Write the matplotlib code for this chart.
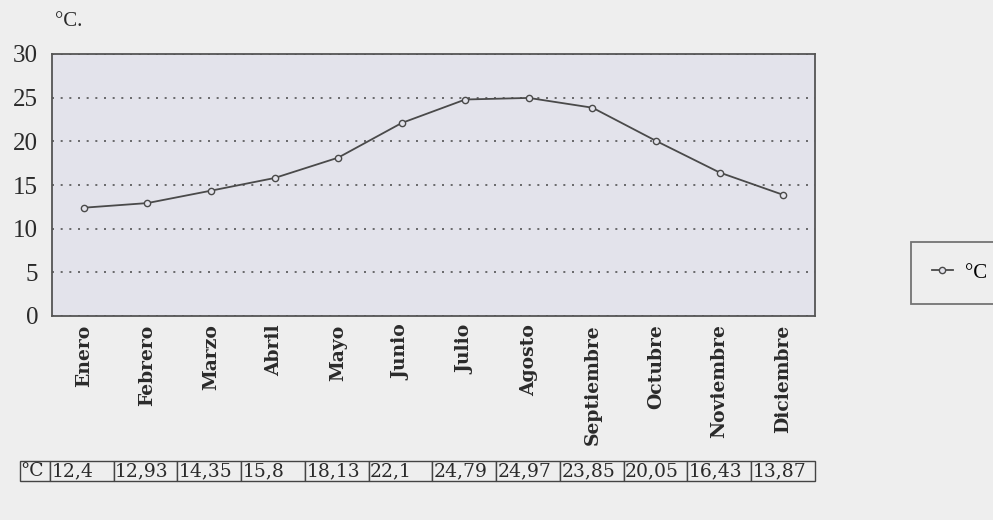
import matplotlib
matplotlib.use("Agg")
import matplotlib.pyplot as plt

months = ["Enero", "Febrero", "Marzo", "Abril", "Mayo", "Junio", "Julio",
          "Agosto", "Septiembre", "Octubre", "Noviembre", "Diciembre"]
temps = [12.4, 12.93, 14.35, 15.8, 18.13, 22.1, 24.79, 24.97, 23.85, 20.05, 16.43, 13.87]
yticks = [0, 5, 10, 15, 20, 25, 30]
series_name = "°C"
unit_label = "°C."

W, H = 993, 520
fig = plt.figure(figsize=(W / 100, H / 100), dpi=100, facecolor="#eeeeee")
ax = fig.add_axes([52 / W, 1 - 316 / H, (815 - 52) / W, (316 - 54) / H])
ax.set_facecolor("#e3e3eb")

x = list(range(len(months)))
line, = ax.plot(x, temps, color="#4a4a4a", lw=1.3, marker="o", ms=4.5,
                mfc="#e3e3eb", mec="#4a4a4a", mew=1.0, label=series_name)

ax.set_xlim(-0.5, len(months) - 0.5)
ax.set_ylim(0, 30)
ax.set_yticks(yticks)
ax.yaxis.grid(True, linestyle=(0, (1.2, 4)), color="#555555", lw=1.2)
ax.set_axisbelow(True)
for s in ax.spines.values():
    s.set_color("#555555")
    s.set_linewidth(1.3)
ax.tick_params(axis="both", length=0)
ax.set_yticklabels([str(t) for t in yticks], fontfamily="Liberation Serif",
                   fontsize=18, color="#2a2a2a")
ax.set_xticks(x)
ax.set_xticklabels(months, rotation=90, fontfamily="DejaVu Serif",
                   fontweight="bold", fontsize=13.5, color="#2a2a2a", va="top")
ax.tick_params(axis="x", pad=6)
ax.tick_params(axis="y", pad=10)

fig.text(55 / W, 1 - 21 / H, unit_label, fontfamily="Liberation Serif",
         fontsize=15, color="#2a2a2a", va="center")

# data table under the chart
cells = [[series_name] + [str(v).replace(".", ",") for v in temps]]
cw = [30] + [(815 - 50) / 12] * 12
tot = sum(cw)
axw = 815 - 52
tbl = ax.table(cellText=cells, colWidths=[c / tot for c in cw], cellLoc="left",
               bbox=[(20 - 52) / axw, (316 - 481) / 262, (815 - 20) / axw, 20 / 262])
tbl.auto_set_font_size(False)
for (r, c), cell in tbl.get_celld().items():
    cell.set_edgecolor("#444444")
    cell.set_linewidth(1.0)
    cell.set_facecolor("#eeeeee")
    cell.get_text().set_fontfamily("DejaVu Serif")
    cell.get_text().set_fontsize(13.5)
    cell.get_text().set_color("#2a2a2a")
    cell.PAD = 0.02

leg = fig.legend(handles=[line], loc="center left",
                 bbox_to_anchor=(911 / W, 1 - 273 / H), frameon=True,
                 fancybox=False, handlelength=1.0, handletextpad=0.6,
                 borderpad=1.0, borderaxespad=0,
                 prop={"family": "Liberation Serif", "size": 15})
leg.get_frame().set_edgecolor("#555555")
leg.get_frame().set_linewidth(1.3)
leg.get_frame().set_facecolor("#eeeeee")

fig.savefig("out.png", dpi=100, facecolor=fig.get_facecolor())
